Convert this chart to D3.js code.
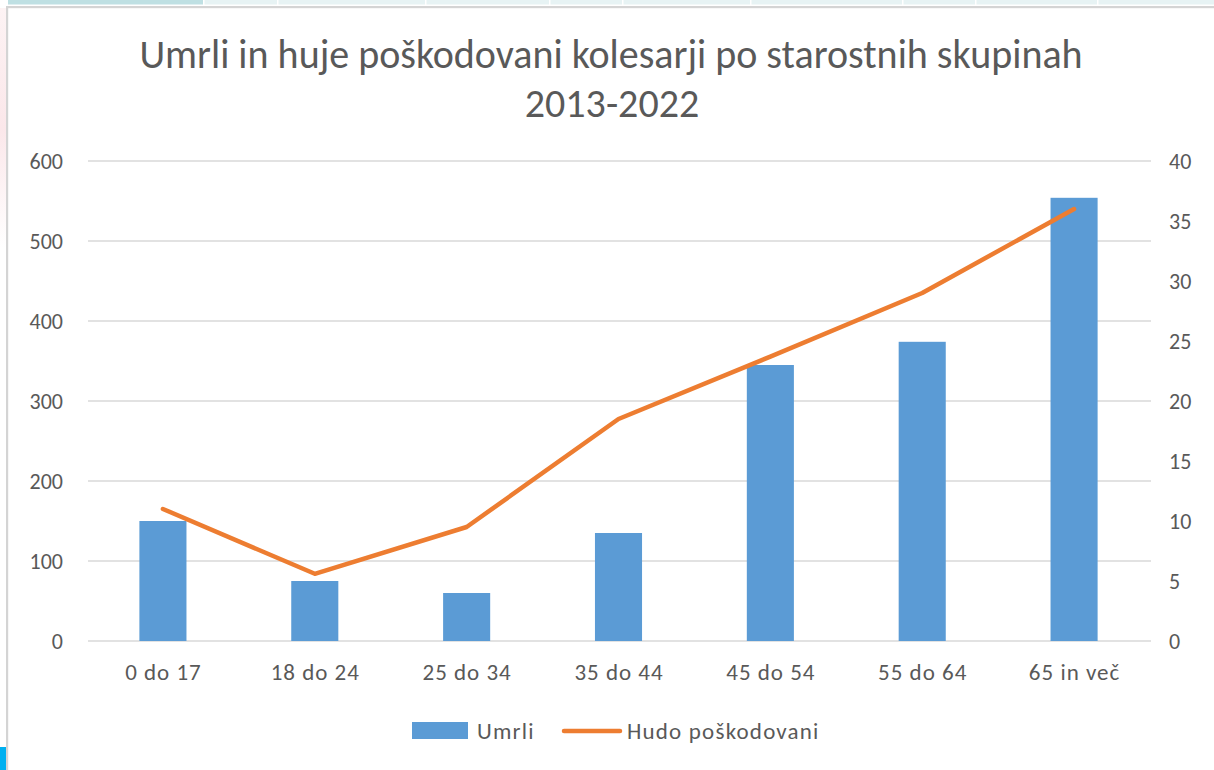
<!DOCTYPE html>
<html>
<head>
<meta charset="utf-8">
<script src="https://cdn.jsdelivr.net/npm/d3@7"></script>
<style>
  html, body { margin: 0; padding: 0; background: #ffffff; }
  svg { display: block; }
  text { font-family: Calibri, Carlito, Lato, "Open Sans", sans-serif; fill: #595959; }
</style>
</head>
<body>
<svg id="chart" width="1214" height="770"></svg>
<script>
const titleLines = ["Umrli in huje poškodovani kolesarji po starostnih skupinah", "2013-2022"];
const categories = ["0 do 17", "18 do 24", "25 do 34", "35 do 44", "45 do 54", "55 do 64", "65 in več"];
const umrli = [150, 75, 60, 135, 345, 374, 554];
const hudoPoskodovani = [11, 5.6, 9.5, 18.5, 23.7, 29, 36];
const leftTicks = [0, 100, 200, 300, 400, 500, 600];
const rightTicks = [0, 5, 10, 15, 20, 25, 30, 35, 40];
const seriesNames = ["Umrli", "Hudo poškodovani"];

const svg = d3.select("#chart");
const FONT = "Calibri, Carlito, Lato, sans-serif";

// ---- window frame decorations ----
const tabEdges = [8, 203, 277, 425, 549, 622, 750, 902, 975, 1097, 1214];
for (let i = 0; i < tabEdges.length - 1; i++) {
  svg.append("rect")
    .attr("x", tabEdges[i] + (i ? 1.5 : 0)).attr("y", 0)
    .attr("width", tabEdges[i + 1] - tabEdges[i] - (i ? 1.5 : 0)).attr("height", 4.5)
    .attr("fill", i === 0 ? "#bfe0e3" : "#e7f3f4");
}
const pink = svg.append("defs").append("linearGradient").attr("id", "pk")
  .attr("x1", 0).attr("x2", 0).attr("y1", 0).attr("y2", 1);
pink.append("stop").attr("offset", 0).attr("stop-color", "#fdf3f4");
pink.append("stop").attr("offset", 0.5).attr("stop-color", "#fbe7ea");
pink.append("stop").attr("offset", 1).attr("stop-color", "#ffffff");
svg.append("rect").attr("x", 0).attr("y", 8).attr("width", 6).attr("height", 240).attr("fill", "url(#pk)");
svg.append("rect").attr("x", 0).attr("y", 747).attr("width", 6).attr("height", 23).attr("fill", "#00b0f0");
svg.append("rect").attr("x", 6).attr("y", 6).attr("width", 1208).attr("height", 2.2).attr("fill", "#d4d4d4");
svg.append("rect").attr("x", 6).attr("y", 6).attr("width", 2.2).attr("height", 764).attr("fill", "#d4d4d4");

// ---- scales ----
const x = d3.scaleBand().domain(categories).range([87, 1150]).paddingInner(0).paddingOuter(0);
const yL = d3.scaleLinear().domain([0, 600]).range([641, 161]);
const yR = d3.scaleLinear().domain([0, 40]).range([641, 161]);
const barW = x.bandwidth() * 0.31;

// ---- gridlines ----
svg.append("g").selectAll("line").data(leftTicks).join("line")
  .attr("x1", 88).attr("x2", 1151)
  .attr("y1", d => yL(d)).attr("y2", d => yL(d))
  .attr("stroke", "#d9d9d9").attr("stroke-width", 1.6);

// ---- axes labels ----
const leftAxis = d3.axisLeft(yL).tickValues(leftTicks).tickSize(0).tickPadding(0);
const gl = svg.append("g").attr("transform", "translate(63,0)").call(leftAxis);
gl.select(".domain").remove();
gl.selectAll("text").attr("font-size", 22).attr("fill", "#595959")
  .style("font-family", FONT).attr("dy", "0.36em");

const rightAxis = d3.axisRight(yR).tickValues(rightTicks).tickSize(0).tickPadding(0);
const gr = svg.append("g").attr("transform", "translate(1169,0)").call(rightAxis);
gr.select(".domain").remove();
gr.selectAll("text").attr("font-size", 22).attr("fill", "#595959")
  .style("font-family", FONT).attr("dy", "0.36em");

const bottomAxis = d3.axisBottom(x).tickSize(0).tickPadding(0);
const gb = svg.append("g").attr("transform", "translate(0,672)").call(bottomAxis);
gb.select(".domain").remove();
gb.selectAll("text").attr("font-size", 23).attr("fill", "#595959")
  .style("font-family", FONT).style("letter-spacing", "1px")
  .attr("dx", "0.5").attr("dy", "0.36em");

// ---- bars ----
svg.append("g").selectAll("rect").data(umrli).join("rect")
  .attr("x", (d, i) => x(categories[i]) + x.bandwidth() / 2 - barW / 2)
  .attr("width", barW)
  .attr("y", d => yL(d))
  .attr("height", d => yL(0) - yL(d))
  .attr("fill", "#5b9bd5");

// ---- line ----
const line = d3.line()
  .x((d, i) => x(categories[i]) + x.bandwidth() / 2)
  .y(d => yR(d));
svg.append("path").datum(hudoPoskodovani)
  .attr("d", line)
  .attr("fill", "none").attr("stroke", "#ed7d31").attr("stroke-width", 4.5)
  .attr("stroke-linejoin", "round").attr("stroke-linecap", "round");

// ---- title ----
const t1 = svg.append("text").attr("x", 611).attr("y", 68).attr("text-anchor", "middle")
  .attr("font-size", 36).text(titleLines[0]);
const w1 = t1.node().getComputedTextLength();
const fs = Math.min(40, 36 * 948 / w1);
t1.attr("font-size", fs);
svg.append("text").attr("x", 612).attr("y", 117).attr("text-anchor", "middle")
  .attr("font-size", fs).text(titleLines[1]);

// ---- legend ----
const lg = svg.append("g");
lg.append("rect").attr("x", 412).attr("y", 722).attr("width", 56).attr("height", 17).attr("fill", "#5b9bd5");
lg.append("text").attr("x", 477).attr("y", 731).attr("dy", "0.36em").attr("font-size", 23)
  .style("letter-spacing", "1.2px").text(seriesNames[0]);
lg.append("line").attr("x1", 564).attr("x2", 620).attr("y1", 731).attr("y2", 731)
  .attr("stroke", "#ed7d31").attr("stroke-width", 4.5).attr("stroke-linecap", "round");
lg.append("text").attr("x", 627).attr("y", 731).attr("dy", "0.36em").attr("font-size", 23)
  .style("letter-spacing", "1.2px").text(seriesNames[1]);
</script>
</body>
</html>
